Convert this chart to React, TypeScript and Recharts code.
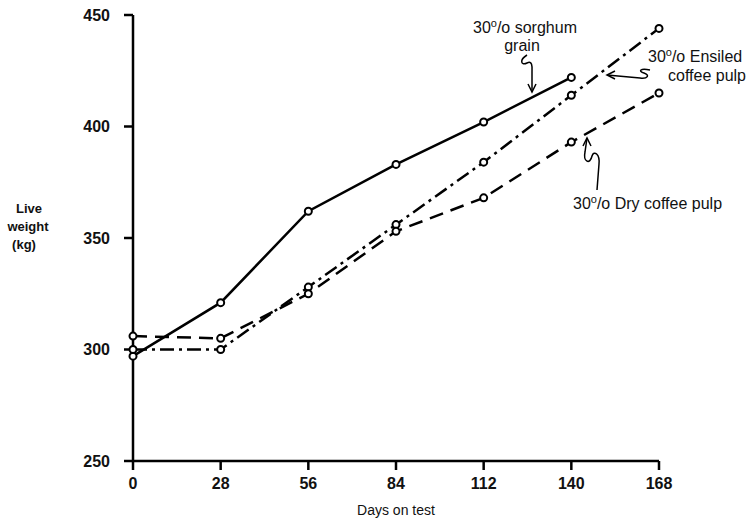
import React from "react";
import { LineChart, Line, XAxis, YAxis, Customized } from "recharts";

const days = [0, 28, 56, 84, 112, 140, 168];
const sorghumGrain = [297, 321, 362, 383, 402, 422, null];
const ensiledPulp = [300, 300, 328, 356, 384, 414, 444];
const dryPulp = [306, 305, 325, 353, 368, 393, 415];
const xTicks = [0, 28, 56, 84, 112, 140, 168];
const yTicks = [250, 300, 350, 400, 450];

const data = days.map((d, i) => ({
  day: d,
  sorghum: sorghumGrain[i],
  ensiled: ensiledPulp[i],
  dry: dryPulp[i],
}));

const FONT = "'Liberation Sans', Arial, Helvetica, sans-serif";

const dot = { r: 3.5, fill: "#fff", stroke: "#000", strokeWidth: 2, strokeDasharray: "none" };

const Pct = ({ x, y, rest }: { x: number; y: number; rest: string }) => (
  <text x={x} y={y} fontFamily={FONT} fontSize={16} fill="#111">
    30
    <tspan fontSize={11} dy={-6}>o</tspan>
    <tspan dy={6}>{"/o " + rest}</tspan>
  </text>
);

const Annotations = () => (
  <g>
    <Pct x={473} y={33} rest="sorghum" />
    <text x={522} y={51} textAnchor="middle" fontFamily={FONT} fontSize={16} fill="#111">grain</text>
    <path d="M527,55 C519,60 521,66 527,63 C533,60 532,68 532,72 L532,92" fill="none" stroke="#000" strokeWidth={1.5} />
    <path d="M528,84 L532,92 L536,84" fill="none" stroke="#000" strokeWidth={1.5} />

    <Pct x={648} y={62} rest="Ensiled" />
    <text x={668} y={81} fontFamily={FONT} fontSize={16} fill="#111">coffee pulp</text>
    <path d="M607,75 L640,78 C648,79 650,75 644,73 C638,71 640,68 650,70" fill="none" stroke="#000" strokeWidth={1.5} />
    <path d="M615,71 L607,75 L615,79" fill="none" stroke="#000" strokeWidth={1.5} />

    <Pct x={573} y={209} rest="Dry coffee pulp" />
    <path d="M587,138 L585,152 C583,162 590,165 592,156 C594,150 600,154 599,164 L597,190" fill="none" stroke="#000" strokeWidth={1.5} />
    <path d="M583,146 L587,138 L591,146" fill="none" stroke="#000" strokeWidth={1.5} />

    <text fontFamily={FONT} fontSize={13} fontWeight="bold" fill="#111" textAnchor="middle">
      <tspan x={29} y={213}>Live</tspan>
      <tspan x={28} y={231}>weight</tspan>
      <tspan x={24} y={249}>(kg)</tspan>
    </text>
    <text x={396} y={515} textAnchor="middle" fontFamily={FONT} fontSize={14} fill="#111">Days on test</text>
  </g>
);

export default function App() {
  return (
    <div style={{ position: "absolute", left: 0, top: 0, background: "#fff" }}>
      <LineChart width={752} height={523} data={data} margin={{ top: 15, right: 93, bottom: 32, left: 73 }}>
        <XAxis
          dataKey="day"
          type="number"
          domain={[0, 168]}
          ticks={xTicks}
          height={30}
          axisLine={{ stroke: "#000", strokeWidth: 2.5 }}
          tickLine={{ stroke: "#000", strokeWidth: 2.5 }}
          tickSize={9}
          tickMargin={8}
          tick={{ fill: "#111", fontSize: 16, fontWeight: "bold", fontFamily: FONT }}
        />
        <YAxis
          type="number"
          domain={[250, 450]}
          ticks={yTicks}
          width={60}
          axisLine={{ stroke: "#000", strokeWidth: 2.5 }}
          tickLine={{ stroke: "#000", strokeWidth: 2.5 }}
          tickSize={9}
          tickMargin={14}
          tick={{ fill: "#111", fontSize: 16, fontWeight: "bold", fontFamily: FONT }}
        />
        <Line dataKey="sorghum" stroke="#000" strokeWidth={2.5} dot={dot} isAnimationActive={false} />
        <Line dataKey="ensiled" stroke="#000" strokeWidth={2.5} strokeDasharray="14 5 3 5" dot={dot} isAnimationActive={false} />
        <Line dataKey="dry" stroke="#000" strokeWidth={2.5} strokeDasharray="14 8" dot={dot} isAnimationActive={false} />
        <Customized component={<Annotations />} />
      </LineChart>
    </div>
  );
}
